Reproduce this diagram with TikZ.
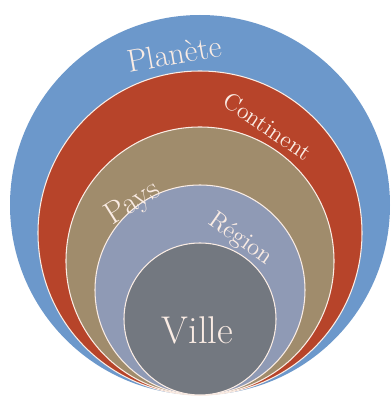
\documentclass[tikz,border=0pt]{standalone}
\usepackage{xcolor}
\usepackage{tikz}
\definecolor{MapBlue}{RGB}{108, 152, 203}
\definecolor{MapRed}{RGB}{183, 68, 42}
\definecolor{MapTan}{RGB}{160, 140, 108}
\definecolor{MapLilac}{RGB}{143, 154, 181}
\definecolor{MapGrey}{RGB}{115, 120, 128}
\definecolor{MapCream}{RGB}{250, 236, 228}

\begin{document}
\begin{tikzpicture}[x=0.2mm, y=0.2mm,
    ring/.style={draw=MapCream, line width=0.6pt},
    lbl/.style={text=MapCream, inner sep=0pt, anchor=base}]
  \fill[white] (0,0) rectangle (392,397);
  \useasboundingbox (0,0) rectangle (392,397);

  % nested circles, all touching at the bottom
  \fill[MapBlue] (200,192) circle (190);
  \draw[ring, fill=MapRed]   (200,164) circle (162);
  \draw[ring, fill=MapTan]   (200,136) circle (134);
  \draw[ring, fill=MapLilac] (200,107) circle (105);
  \draw[ring, fill=MapGrey]  (200,78)  circle (76);

  % labels
  \node[lbl, rotate=10]  (planete)   at (176,332.5) {\fontsize{18}{20}\selectfont Planète};
  \node[lbl, rotate=-34] (continent) at (263,264)   {\fontsize{13.5}{15}\selectfont Continent};
  \node[lbl, rotate=32]  (pays)      at (137,187)   {\fontsize{17.8}{20}\selectfont Pays};
  \node[lbl, rotate=-35] (region)    at (237,153)   {\fontsize{14}{16}\selectfont Région};
  \node[lbl]             (ville)     at (197.5,54)  {\fontsize{22}{24}\selectfont Ville};
\end{tikzpicture}
\end{document}
